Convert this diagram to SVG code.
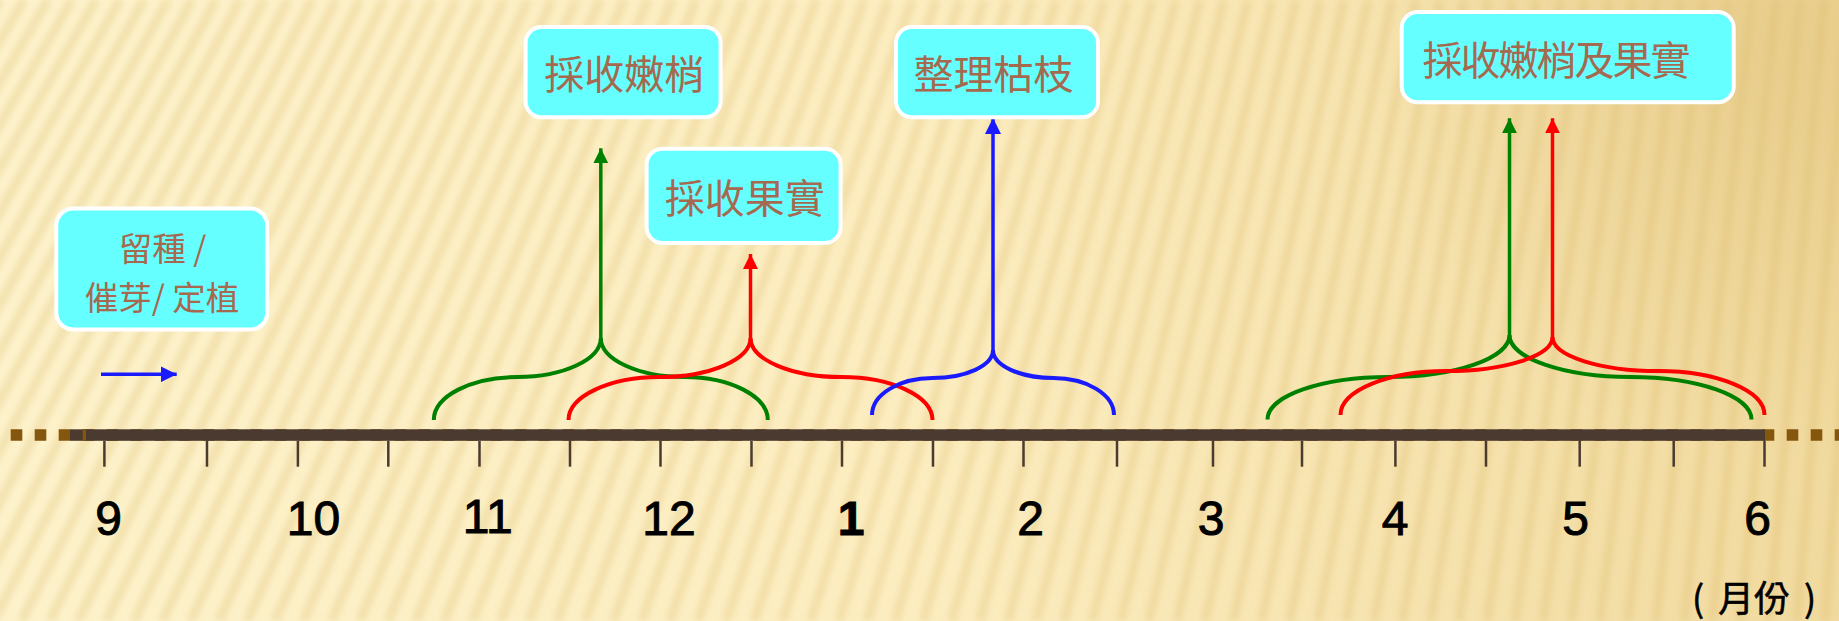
<svg xmlns="http://www.w3.org/2000/svg" width="1839" height="621" viewBox="0 0 1839 621">
<defs>
<style>
.box{fill:#66ffff;stroke:#ffffff;stroke-width:4}
.lbl{font-family:"Noto Sans CJK TC","Noto Sans CJK SC",sans-serif;fill:#a5694f;text-anchor:middle}
.num{font-family:"Liberation Sans",Arial,sans-serif;font-size:48px;fill:#000;stroke:#000;stroke-width:1;text-anchor:middle}
.tick{stroke:#4b3a2f;stroke-width:2.5}
.brace{fill:none;stroke-width:4}
.g{stroke:#008000}
.r{stroke:#ff0000}
.b{stroke:#1a1aff}
.arr{stroke-width:3.5;fill:none}
</style>
<linearGradient id="bg" x1="0" y1="0" x2="1" y2="0">
<stop offset="0" stop-color="#fdf2cb"/>
<stop offset="0.5" stop-color="#fcedc0"/>
<stop offset="1" stop-color="#f1da9f"/>
</linearGradient>
<radialGradient id="dark" cx="1780" cy="40" r="420" gradientUnits="userSpaceOnUse">
<stop offset="0" stop-color="#dcbc72" stop-opacity="0.45"/>
<stop offset="1" stop-color="#dcbc72" stop-opacity="0"/>
</radialGradient>
<filter id="blur" x="-0.1" y="-0.1" width="1.2" height="1.2"><feGaussianBlur stdDeviation="3"/></filter>
<marker id="mg" markerWidth="15" markerHeight="15" refX="15" refY="7.5" orient="auto" markerUnits="userSpaceOnUse"><path d="M0,0 L15,7.5 L0,15 Z" fill="#008000"/></marker>
<marker id="mr" markerWidth="15" markerHeight="15" refX="15" refY="7.5" orient="auto" markerUnits="userSpaceOnUse"><path d="M0,0 L15,7.5 L0,15 Z" fill="#ff0000"/></marker>
<marker id="mb" markerWidth="16" markerHeight="16" refX="16" refY="8" orient="auto" markerUnits="userSpaceOnUse"><path d="M0,0 L16,8 L0,16 Z" fill="#1a1aff"/></marker>
</defs>

<g id="background">
<rect x="0" y="0" width="1839" height="621" fill="url(#bg)"/>
<path filter="url(#blur)" stroke="#d4b25e" stroke-opacity="0.26" stroke-width="9" fill="none" d="M0,0 L-373,621 M24,0 L-344.8,621 M48,0 L-316.6,621 M72,0 L-288.5,621 M96,0 L-260.3,621 M120,0 L-232.1,621 M144,0 L-203.9,621 M168,0 L-175.7,621 M192,0 L-147.6,621 M216,0 L-119.4,621 M240,0 L-91.2,621 M264,0 L-63,621 M288,0 L-34.8,621 M312,0 L-6.7,621 M336,0 L21.5,621 M360,0 L49.7,621 M384,0 L77.9,621 M408,0 L106.1,621 M432,0 L134.2,621 M456,0 L162.4,621 M480,0 L190.6,621 M504,0 L218.8,621 M528,0 L247,621 M552,0 L275.1,621 M576,0 L303.3,621 M600,0 L331.5,621 M624,0 L359.7,621 M648,0 L387.9,621 M672,0 L416,621 M696,0 L444.2,621 M720,0 L472.4,621 M744,0 L500.6,621 M768,0 L528.8,621 M792,0 L556.9,621 M816,0 L585.1,621 M840,0 L613.3,621 M864,0 L641.5,621 M888,0 L669.7,621 M912,0 L697.8,621 M936,0 L726,621 M960,0 L754.2,621 M984,0 L782.4,621 M1008,0 L810.6,621 M1032,0 L838.7,621 M1056,0 L866.9,621 M1080,0 L895.1,621 M1104,0 L923.3,621 M1128,0 L951.5,621 M1152,0 L979.6,621 M1176,0 L1007.8,621 M1200,0 L1036,621 M1224,0 L1064.2,621 M1248,0 L1092.4,621 M1272,0 L1120.5,621 M1296,0 L1148.7,621 M1320,0 L1176.9,621 M1344,0 L1205.1,621 M1368,0 L1233.3,621 M1392,0 L1261.4,621 M1416,0 L1289.6,621 M1440,0 L1317.8,621 M1464,0 L1346,621 M1488,0 L1374.2,621 M1512,0 L1402.3,621 M1536,0 L1430.5,621 M1560,0 L1458.7,621 M1584,0 L1486.9,621 M1608,0 L1515.1,621 M1632,0 L1543.2,621 M1656,0 L1571.4,621 M1680,0 L1599.6,621 M1704,0 L1627.8,621 M1728,0 L1656,621 M1752,0 L1684.1,621 M1776,0 L1712.3,621 M1800,0 L1740.5,621 M1824,0 L1768.7,621 M1848,0 L1796.9,621 M1872,0 L1825,621 M1896,0 L1853.2,621 M1920,0 L1881.4,621"/>
<rect x="0" y="0" width="1839" height="621" fill="url(#dark)"/>
</g>

<g id="axis">
<line x1="10.7" y1="435" x2="1839" y2="435" stroke="#85560d" stroke-width="11.5" stroke-dasharray="11.6 12.4"/>
<rect x="70" y="429.3" width="1695" height="11.5" fill="#4b3a2f"/>
<rect x="82.7" y="429.3" width="3.3" height="11.5" fill="#85560d"/>
<g class="tick">
<line x1="104.4" y1="440.8" x2="104.4" y2="466.7"/>
<line x1="207" y1="440.8" x2="207" y2="466.7"/>
<line x1="297.9" y1="440.8" x2="297.9" y2="466.7"/>
<line x1="388.3" y1="440.8" x2="388.3" y2="466.7"/>
<line x1="479.5" y1="440.8" x2="479.5" y2="466.7"/>
<line x1="570" y1="440.8" x2="570" y2="466.7"/>
<line x1="660.5" y1="440.8" x2="660.5" y2="466.7"/>
<line x1="751.5" y1="440.8" x2="751.5" y2="466.7"/>
<line x1="842" y1="440.8" x2="842" y2="466.7"/>
<line x1="933" y1="440.8" x2="933" y2="466.7"/>
<line x1="1023.5" y1="440.8" x2="1023.5" y2="466.7"/>
<line x1="1117" y1="440.8" x2="1117" y2="466.7"/>
<line x1="1213" y1="440.8" x2="1213" y2="466.7"/>
<line x1="1302" y1="440.8" x2="1302" y2="466.7"/>
<line x1="1395.4" y1="440.8" x2="1395.4" y2="466.7"/>
<line x1="1486" y1="440.8" x2="1486" y2="466.7"/>
<line x1="1579.7" y1="440.8" x2="1579.7" y2="466.7"/>
<line x1="1673.7" y1="440.8" x2="1673.7" y2="466.7"/>
<line x1="1764.5" y1="440.8" x2="1764.5" y2="466.7"/>
</g>
<text class="num" x="108.6" y="535">9</text>
<text class="num" x="313.4" y="535">10</text>
<text class="num" x="487.7" y="533">11</text>
<text class="num" x="669" y="535">12</text>
<text class="num" x="851" y="535" font-weight="bold">1</text>
<text class="num" x="1030.5" y="535">2</text>
<text class="num" x="1211" y="535">3</text>
<text class="num" x="1395" y="535">4</text>
<text class="num" x="1575.5" y="535">5</text>
<text class="num" x="1757.5" y="535">6</text>
<text y="612" font-family="'Noto Sans CJK TC','Noto Sans CJK SC',sans-serif" font-size="36" fill="#000" stroke="#000" stroke-width="0.6"><tspan x="1692">(</tspan><tspan x="1718">月份</tspan><tspan x="1804">)</tspan></text>
</g>

<g id="connectors">
<path class="brace g" d="M 433.8,420 C 433.8,396.3 471.2,377 517.3,377 C 563.4,377 600.8,359.5 600.8,338 C 600.8,359.5 638.2,377 684.3,377 C 730.4,377 767.8,396.3 767.8,420"/>
<path class="brace r" d="M 568.5,420 C 568.5,396.3 609.3,377 659.5,377 C 709.7,377 750.5,359.5 750.5,338 C 750.5,359.5 791.3,377 841.5,377 C 891.7,377 932.5,396.3 932.5,420"/>
<path class="brace b" d="M 872,415 C 872,394.6 899.1,378 932.5,378 C 965.9,378 993,365.5 993,350 C 993,365.5 1020.1,378 1053.5,378 C 1086.9,378 1114,394.6 1114,415"/>
<path class="brace g" d="M 1267.5,419.5 C 1267.5,396 1321.7,377 1388.5,377 C 1455.3,377 1509.5,358.2 1509.5,335 C 1509.5,358.2 1563.7,377 1630.5,377 C 1697.3,377 1751.5,396 1751.5,419.5"/>
<path class="brace r" d="M 1340.5,415 C 1340.5,390.7 1388,371 1446.5,371 C 1505,371 1552.5,355.8 1552.5,337 C 1552.5,355.8 1600,371 1658.5,371 C 1717,371 1764.5,390.7 1764.5,415"/>
<line class="arr g" x1="600.8" y1="340" x2="600.8" y2="148.3" marker-end="url(#mg)"/>
<line class="arr r" x1="750.5" y1="340" x2="750.5" y2="254" marker-end="url(#mr)"/>
<line class="arr b" x1="993" y1="352" x2="993" y2="118" marker-end="url(#mb)"/>
<line class="arr g" x1="1509.5" y1="337" x2="1509.5" y2="118.3" marker-end="url(#mg)"/>
<line class="arr r" x1="1552.5" y1="339" x2="1552.5" y2="118.3" marker-end="url(#mr)"/>
<line class="arr b" x1="101" y1="374.3" x2="176.7" y2="374.3" stroke-width="4" marker-end="url(#mb)"/>
</g>

<g id="node-seed">
<rect class="box" x="56.3" y="208.5" width="211" height="121" rx="17"/>
<text class="lbl" font-size="33.5"><tspan x="162.5" y="261">留種 /</tspan><tspan x="162" y="310">催芽/ 定植</tspan></text>
</g>
<g id="node-shoot">
<rect class="box" x="525.6" y="27" width="195" height="90.3" rx="16"/>
<text class="lbl" font-size="40" x="624.3" y="89">採收嫩梢</text>
</g>
<g id="node-fruit">
<rect class="box" x="646.6" y="148.7" width="194" height="94.3" rx="16"/>
<text class="lbl" font-size="40" x="744.8" y="212.5">採收果實</text>
</g>
<g id="node-prune">
<rect class="box" x="896" y="27" width="202" height="90.3" rx="16"/>
<text class="lbl" font-size="40" x="993.5" y="89">整理枯枝</text>
</g>
<g id="node-both">
<rect class="box" x="1401.7" y="12" width="332" height="90.3" rx="16"/>
<text class="lbl" font-size="40" x="1556.5" y="75" textLength="268" lengthAdjust="spacing">採收嫩梢及果實</text>
</g>
</svg>
